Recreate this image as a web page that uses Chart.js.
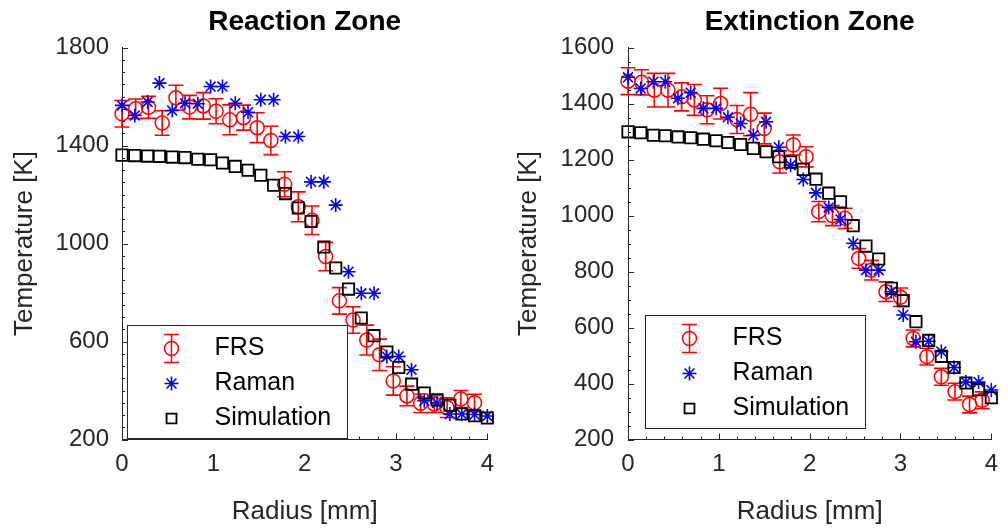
<!DOCTYPE html>
<html>
<head>
<meta charset="utf-8">
<title>Reaction / Extinction Zone</title>
<script src="https://cdn.jsdelivr.net/npm/chart.js@4.4.1/dist/chart.umd.min.js"></script>
<style>
    html, body { margin: 0; padding: 0; background: #fff; }
    #wrap { position: relative; width: 1008px; height: 529px; }
    .panel { position: absolute; top: 0; width: 504px; height: 529px; }
</style>
</head>
<body>
<div id="wrap">
    <div class="panel" style="left:0"><canvas id="reactionChart"></canvas></div>
    <div class="panel" style="left:504px"><canvas id="extinctionChart"></canvas></div>
</div>
<script>
// radial positions shared by Raman and simulation [mm]
const radiusGrid = [0, 0.14, 0.28, 0.41, 0.55, 0.69, 0.83, 0.97, 1.1, 1.24, 1.38, 1.52, 1.66, 1.79, 1.93,
    2.07, 2.21, 2.34, 2.48, 2.62, 2.76, 2.9, 3.03, 3.17, 3.31, 3.45, 3.59, 3.72, 3.86, 4];

// Reaction zone
const frsRadiusReaction = [0, 0.15, 0.29, 0.44, 0.59, 0.74, 0.89, 1.03, 1.18, 1.33, 1.48, 1.63, 1.78, 1.93,
    2.08, 2.23, 2.38, 2.53, 2.68, 2.82, 2.97, 3.12, 3.27, 3.42, 3.56, 3.71, 3.86];
const frsTempReaction = [1530, 1550, 1556, 1492, 1595, 1557, 1562, 1540, 1505, 1514, 1473, 1421, 1242, 1150,
    1095, 947, 766, 688, 606, 546, 439, 378, 348, 345, 330, 365, 350];
const frsErrReaction = [54, 40, 45, 50, 51, 48, 54, 51, 61, 51, 61, 58, 51, 61, 58, 58, 54, 54, 61, 64, 58,
    40, 38, 35, 40, 35, 35];
const ramanTempReaction = [1564, 1523, 1578, 1655, 1543, 1573, 1571, 1641, 1641, 1573, 1536, 1587, 1587, 1437,
    1437, 1252, 1252, 1157, 885, 797, 797, 539, 539, 485, 358, 349, 304, 304, 302, 296];
const simTempReaction = [1361, 1359, 1357, 1356, 1353, 1351, 1344, 1342, 1329, 1315, 1299, 1279, 1238, 1204,
    1145, 1090, 986, 900, 814, 696, 624, 557, 494, 426, 390, 362, 340, 304, 297, 288];

// Extinction zone
const frsRadiusExtinction = [0, 0.15, 0.29, 0.44, 0.59, 0.73, 0.87, 1.02, 1.2, 1.35, 1.5, 1.67, 1.82, 1.96,
    2.1, 2.25, 2.39, 2.54, 2.68, 2.84, 3.0, 3.14, 3.29, 3.45, 3.6, 3.76, 3.9];
const frsTempExtinction = [1480, 1476, 1448, 1448, 1424, 1413, 1378, 1400, 1343, 1362, 1311, 1192, 1252, 1210,
    1014, 1000, 990, 847, 805, 728, 708, 561, 496, 424, 371, 325, 340];
const frsErrExtinction = [48, 45, 60, 60, 50, 55, 50, 55, 50, 77, 55, 40, 36, 36, 36, 36, 36, 35, 35, 35, 33,
    30, 30, 30, 30, 30, 30];
const ramanTempExtinction = [1494, 1454, 1478, 1478, 1419, 1439, 1383, 1383, 1351, 1329, 1287, 1335, 1244, 1180,
    1129, 1081, 1029, 986, 901, 805, 805, 728, 645, 549, 551, 514, 457, 405, 405, 377];
const simTempExtinction = [1299, 1296, 1287, 1285, 1281, 1278, 1273, 1267, 1261, 1254, 1240, 1228, 1210, 1191,
    1165, 1130, 1080, 1049, 964, 891, 845, 740, 696, 621, 554, 497, 457, 402, 378, 349];

const seriesLabels = ['FRS', 'Raman', 'Simulation'];
const xTitle = 'Radius [mm]';
const yTitle = 'Temperature [K]';

const FONT = "'Liberation Sans', Arial, Helvetica, sans-serif";
const AXIS_COLOR = '#262626';

function toPoints(xs, ys) {
    return xs.map((x, i) => ({ x: x, y: ys[i] }));
}

// vertical error bars for datasets that carry an "errors" array
const errorBars = {
    id: 'errorBars',
    beforeDatasetsDraw(chart) {
        const ctx = chart.ctx;
        const yScale = chart.scales.y;
        chart.data.datasets.forEach((ds, i) => {
            if (!ds.errors) return;
            const meta = chart.getDatasetMeta(i);
            ctx.save();
            ctx.strokeStyle = ds.borderColor;
            ctx.lineWidth = 1.6;
            ctx.beginPath();
            meta.data.forEach((pt, j) => {
                const v = ds.data[j].y;
                const top = yScale.getPixelForValue(v + ds.errors[j]);
                const bot = yScale.getPixelForValue(v - ds.errors[j]);
                ctx.moveTo(pt.x, top); ctx.lineTo(pt.x, bot);
                ctx.moveTo(pt.x - 7.5, top); ctx.lineTo(pt.x + 7.5, top);
                ctx.moveTo(pt.x - 7.5, bot); ctx.lineTo(pt.x + 7.5, bot);
            });
            ctx.stroke();
            ctx.restore();
        });
    }
};

// inward major + minor tick marks (matlab look)
const inTicks = {
    id: 'inTicks',
    afterDatasetsDraw(chart, args, opts) {
        const ctx = chart.ctx;
        const area = chart.chartArea;
        const { x, y } = chart.scales;
        ctx.save();
        ctx.strokeStyle = AXIS_COLOR;
        ctx.lineWidth = 1;
        ctx.beginPath();
        const nx = Math.round((x.max - x.min) / opts.xMinor);
        for (let k = 0; k <= nx; k++) {
            const v = x.min + k * opts.xMinor;
            const major = Math.abs(v / opts.xMajor - Math.round(v / opts.xMajor)) < 1e-6;
            const px = Math.round(x.getPixelForValue(v)) + 0.5;
            ctx.moveTo(px, area.bottom);
            ctx.lineTo(px, area.bottom - (major ? 6 : 3));
        }
        const ny = Math.round((y.max - y.min) / opts.yMinor);
        for (let k = 0; k <= ny; k++) {
            const v = y.min + k * opts.yMinor;
            const major = Math.abs((v - y.min) / opts.yMajor - Math.round((v - y.min) / opts.yMajor)) < 1e-6;
            const py = Math.round(y.getPixelForValue(v)) + 0.5;
            ctx.moveTo(area.left, py);
            ctx.lineTo(area.left + (major ? 6 : 3), py);
        }
        ctx.stroke();
        ctx.restore();
    }
};

// legend box drawn inside the plot area
const boxLegend = {
    id: 'boxLegend',
    afterDraw(chart, args, opts) {
        const ctx = chart.ctx;
        const area = chart.chartArea;
        const w = 220, h = 113;
        const x0 = Math.round(area.left + opts.left) + 0.5;
        const y0 = Math.round(area.bottom - opts.bottom - h) + 0.5;
        ctx.save();
        ctx.fillStyle = '#fff';
        ctx.fillRect(x0, y0, w, h);
        ctx.strokeStyle = AXIS_COLOR;
        ctx.lineWidth = 1;
        ctx.strokeRect(x0, y0, w, h);
        chart.data.datasets.forEach((ds, i) => {
            const cy = y0 + 23 + i * 35;
            const mx = x0 + 44;
            ctx.strokeStyle = ds.borderColor;
            ctx.fillStyle = 'rgba(0,0,0,0)';
            ctx.lineWidth = ds.borderWidth;
            if (ds.errors) {
                ctx.beginPath();
                ctx.moveTo(mx, cy - 14); ctx.lineTo(mx, cy + 14);
                ctx.moveTo(mx - 7.5, cy - 14); ctx.lineTo(mx + 7.5, cy - 14);
                ctx.moveTo(mx - 7.5, cy + 14); ctx.lineTo(mx + 7.5, cy + 14);
                ctx.stroke();
            }
            const r = ds.pointStyle === 'rect' ? 7 : ds.pointRadius;
            Chart.helpers.drawPoint(ctx, {
                pointStyle: ds.pointStyle, radius: r, borderWidth: ds.borderWidth, rotation: 0
            }, mx, cy);
            ctx.fillStyle = '#000';
            ctx.font = '25px ' + FONT;
            ctx.textBaseline = 'middle';
            ctx.textAlign = 'left';
            ctx.fillText(ds.label, x0 + 87, cy);
        });
        ctx.restore();
    }
};

function makeChart(canvasId, cfg) {
    const ctx = document.getElementById(canvasId);
    return new Chart(ctx, {
        type: 'scatter',
        data: {
            datasets: [
                {
                    label: seriesLabels[0],
                    data: toPoints(cfg.frsRadius, cfg.frsTemp),
                    errors: cfg.frsErr,
                    pointStyle: 'circle',
                    pointRadius: 7,
                    borderColor: '#ff0000',
                    backgroundColor: 'rgba(0,0,0,0)',
                    borderWidth: 1.5,
                    clip: false,
                    order: 3
                },
                {
                    label: seriesLabels[1],
                    data: toPoints(radiusGrid, cfg.ramanTemp),
                    pointStyle: 'star',
                    pointRadius: 7,
                    borderColor: '#0000ff',
                    backgroundColor: '#0000ff',
                    borderWidth: 1.6,
                    clip: false,
                    order: 2
                },
                {
                    label: seriesLabels[2],
                    data: toPoints(radiusGrid, cfg.simTemp),
                    pointStyle: 'rect',
                    pointRadius: 8,
                    borderColor: '#000000',
                    backgroundColor: 'rgba(0,0,0,0)',
                    borderWidth: 1.8,
                    clip: false,
                    order: 1
                }
            ]
        },
        options: {
            responsive: true,
            maintainAspectRatio: false,
            animation: false,
            devicePixelRatio: 1,
            events: [],
            layout: { padding: { left: 0, right: cfg.padRight, top: 0, bottom: 0 } },
            scales: {
                x: {
                    type: 'linear',
                    min: 0,
                    max: 4,
                    afterFit: function (scale) { scale.height = 89.5; },
                    ticks: {
                        stepSize: 1,
                        padding: 10,
                        color: AXIS_COLOR,
                        font: { family: FONT, size: 24 },
                        callback: v => String(v)
                    },
                    grid: { display: true, drawOnChartArea: false, drawTicks: false },
                    border: { display: true, color: AXIS_COLOR, width: 1 },
                    title: {
                        display: true,
                        text: xTitle,
                        color: AXIS_COLOR,
                        font: { family: FONT, size: 26 },
                        padding: { top: 0, bottom: 2 }
                    }
                },
                y: {
                    type: 'linear',
                    min: cfg.yMin,
                    max: cfg.yMax,
                    afterFit: function (scale) { scale.width = cfg.yWidth; },
                    ticks: {
                        stepSize: cfg.yStep,
                        padding: cfg.yPad,
                        color: AXIS_COLOR,
                        font: { family: FONT, size: 24 },
                        callback: v => String(v)
                    },
                    grid: { display: true, drawOnChartArea: false, drawTicks: false },
                    border: { display: true, color: AXIS_COLOR, width: 1 },
                    title: {
                        display: true,
                        text: yTitle,
                        color: AXIS_COLOR,
                        font: { family: FONT, size: 26 },
                        padding: { top: 9, bottom: 0 }
                    }
                }
            },
            plugins: {
                legend: { display: false },
                tooltip: { enabled: false },
                title: {
                    display: true,
                    text: cfg.title,
                    fullSize: false,
                    color: '#000',
                    font: { family: FONT, size: 28, weight: 'bold' },
                    padding: { top: 5, bottom: 9 }
                },
                inTicks: { xMinor: 0.2, xMajor: 1, yMinor: 50, yMajor: cfg.yStep },
                boxLegend: { left: cfg.legendLeft, bottom: cfg.legendBottom }
            }
        },
        plugins: [errorBars, inTicks, boxLegend]
    });
}

makeChart('reactionChart', {
    title: 'Reaction Zone',
    frsRadius: frsRadiusReaction,
    frsTemp: frsTempReaction,
    frsErr: frsErrReaction,
    ramanTemp: ramanTempReaction,
    simTemp: simTempReaction,
    yMin: 200, yMax: 1800, yStep: 400,
    yWidth: 122, yPad: 13, padRight: 11,
    legendLeft: 5, legendBottom: 2
});

makeChart('extinctionChart', {
    title: 'Extinction Zone',
    frsRadius: frsRadiusExtinction,
    frsTemp: frsTempExtinction,
    frsErr: frsErrExtinction,
    ramanTemp: ramanTempExtinction,
    simTemp: simTempExtinction,
    yMin: 200, yMax: 1600, yStep: 200,
    yWidth: 124, yPad: 14, padRight: 8,
    legendLeft: 17, legendBottom: 12
});
</script>
</body>
</html>
